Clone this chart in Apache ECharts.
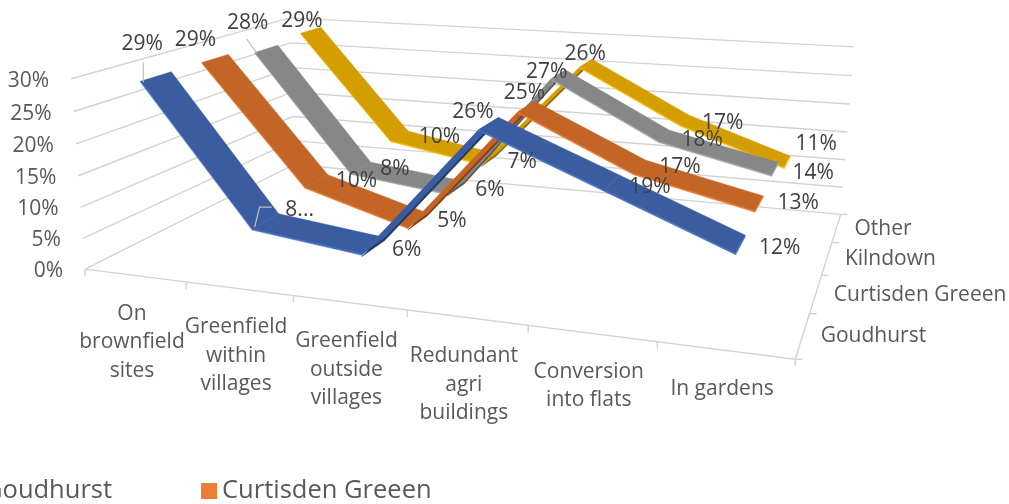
<!DOCTYPE html>
<html><head><meta charset="utf-8">
<script src="https://cdn.jsdelivr.net/npm/echarts@6/dist/echarts.min.js"></script>
<style>html,body{margin:0;padding:0;background:#fff}#c{width:1009px;height:504px}</style>
</head><body><div id="c"></div>
<script>
// ---------- data ----------
const categories = ['On\nbrownfield\nsites','Greenfield\nwithin\nvillages','Greenfield\noutside\nvillages','Redundant\nagri\nbuildings','Conversion\ninto flats','In gardens'];
const depthNames = ['Goudhurst','Curtisden Greeen','Kilndown','Other'];
const goudhurst = [0.294,0.08,0.06,0.26,0.19,0.12];
const curtisden = [0.294,0.10,0.05,0.25,0.17,0.13];
const kilndown  = [0.283,0.08,0.06,0.27,0.18,0.14];
const other     = [0.292,0.10,0.07,0.26,0.17,0.11];
const valueTicks = [0,0.05,0.10,0.15,0.20,0.25,0.30];
const legendNames = ['Goudhurst','Curtisden Greeen'];

// ---------- styling / layout ----------
const seriesValues = [goudhurst,curtisden,kilndown,other];
const palette = [
  {top:'#3A5CA0',edge:'#4472C4',dark:'#1F3864',legend:'#4472C4'},
  {top:'#C46528',edge:'#ED7D31',dark:'#843C0C',legend:'#ED7D31'},
  {top:'#878787',edge:'#A5A5A5',dark:'#525252',legend:'#A5A5A5'},
  {top:'#D49E00',edge:'#FFC000',dark:'#7F6000',legend:'#FFC000'}
];
const labelOffsets = [
  [[-14,-32],[34,-11],[33,4],[-16,-11],[38,5],[39,4]],
  [[-20,-18],[40,0],[34,1],[-2,-13],[40,0],[39,0]],
  [[-19,-26],[34,1],[34,3],[-12,-2],[38,4],[38,4]],
  [[-9,-9],[40,1],[33,3],[-1,-9],[38,3],[29,-18]]
];
const labelOverride = {'0,1':'8...'};
const leaders = [
  {s:0,i:0,path:[[-13,-14],[-13,6]]},
  {s:2,i:0,path:[[-20,-10],[-10,4]]},
  {s:0,i:1,path:[[-11,6],[-6,-14],[6,-14]]}
];
const FONT = '"Open Sans"';
const ribbonDepth = 0.12, edgeThickness = 0.007, darkThickness = 0.014;
const gridColor = '#D2D2D2';

// ---------- projection: unit box (x,y,z) -> page, calibrated on the chart's frame ----------
const frame = [];
[[86,268],[187,281],[294,296],[407,310],[528,326],[657,343],[796,360]].forEach((p,i)=>frame.push([i/6,0,0,p[0],p[1]]));
[[808,313],[822,275],[833,242],[840,214]].forEach((p,i)=>frame.push([1,0,(i+1)/4,p[0],p[1]]));
[[83,238],[80,207],[78,176],[76,144],[73,112],[71,79]].forEach((p,i)=>frame.push([0,(i+1)/6,0,p[0],p[1]]));
[[843,187],[845,160],[848,132],[850,104],[852,76],[853,47]].forEach((p,i)=>frame.push([1,(i+1)/6,1,p[0],p[1]]));
frame.push([0,0,1,293,166],[0,1,1,291,17]);
function solveProjection(pts){
  const n=11, A=Array.from({length:n},()=>new Array(n+1).fill(0));
  const add=(r,b)=>{for(let a=0;a<n;a++){for(let c=0;c<n;c++)A[a][c]+=r[a]*r[c];A[a][n]+=r[a]*b;}};
  pts.forEach(([x,y,z,u0,v0])=>{const u=u0/1000,v=v0/1000;
    add([x,y,z,1,0,0,0,0,-u*x,-u*y,-u*z],u);
    add([0,0,0,0,x,y,z,1,-v*x,-v*y,-v*z],v);});
  for(let c=0;c<n;c++){let p=c;for(let r=c+1;r<n;r++)if(Math.abs(A[r][c])>Math.abs(A[p][c]))p=r;
    [A[c],A[p]]=[A[p],A[c]];
    for(let r=0;r<n;r++){if(r===c)continue;const f=A[r][c]/A[c][c];for(let k=c;k<=n;k++)A[r][k]-=f*A[c][k];}}
  return A.map((row,i)=>row[n]/row[i]);
}
const P = solveProjection(frame);
function project(x,y,z){
  const w=P[8]*x+P[9]*y+P[10]*z+1;
  return [1000*(P[0]*x+P[1]*y+P[2]*z+P[3])/w,1000*(P[4]*x+P[5]*y+P[6]*z+P[7])/w];
}
// scale through the hidden cartesian axes, then into the box
function unit(api,params,cat,val){
  const c=api.coord([cat,val]), s=params.coordSys;
  return [(c[0]-s.x)/s.width,(s.y+s.height-c[1])/s.height];
}
function poly(points,fill,z2){return {type:'polygon',shape:{points},style:{fill,stroke:fill,lineWidth:0.5},z2};}
function line(points,z2,w){return {type:'polyline',shape:{points},style:{stroke:gridColor,fill:null,lineWidth:w||1.4},z2:z2||0};}
function text(t,x,y,o){return {type:'text',z2:o.z2||200,style:Object.assign({text:t,x,y,fontFamily:FONT,fontSize:21,fill:'#404040',align:'center',verticalAlign:'middle'},o.s||{})};}

function ribbonRender(k){
  const vals=seriesValues[k], zc=(k+0.5)/4, z0=zc-ribbonDepth/2, z1=zc+ribbonDepth/2, pal=palette[k];
  return function(params,api){
    const i=api.value(0), v=api.value(1), kids=[], base=(3-k)*20+i;
    const a=unit(api,params,i,v), ctr=project(a[0],a[1],zc);
    if(i<vals.length-1){
      const b=unit(api,params,i+1,vals[i+1]);
      const af=project(a[0],a[1],z0),bf=project(b[0],b[1],z0),bb=project(b[0],b[1],z1),ab=project(a[0],a[1],z1);
      const t=darkThickness, e=edgeThickness;
      if(vals[i+1]>v) kids.push(poly([project(a[0],a[1]-t,z0),project(b[0],b[1]-t,z0),project(b[0],b[1]-t,z1),project(a[0],a[1]-t,z1)],pal.dark,base));
      kids.push(poly([af,bf,project(b[0],b[1]-e,z0),project(a[0],a[1]-e,z0)],pal.edge,base));
      kids.push(poly([af,bf,bb,ab],pal.top,base));
      if(i===vals.length-2) kids.push(poly([bf,bb,project(b[0],b[1]-e,z1),project(b[0],b[1]-e,z0)],pal.edge,base));
    }
    const off=labelOffsets[k][i];
    const lab=labelOverride[k+','+i]||Math.round(v*100)+'%';
    kids.push(text(lab,ctr[0]+off[0],ctr[1]+off[1],{}));
    leaders.filter(l=>l.s===k&&l.i===i).forEach(l=>{
      kids.push({type:'polyline',shape:{points:l.path.map(d=>[ctr[0]+d[0],ctr[1]+d[1]])},style:{stroke:'#BFBFBF',fill:null,lineWidth:1.2},z2:150});
    });
    return {type:'group',children:kids};
  };
}
function frameRender(params,api){
  const kids=[], n=categories.length, m=depthNames.length;
  valueTicks.forEach(t=>{
    const y=unit(api,params,0,t)[1];
    const a=project(0,y,0),b=project(0,y,1),c=project(1,y,1);
    kids.push(line([a,b,c]));
    kids.push(text(Math.round(t*100)+'%',a[0]-22,a[1]+2,{s:{align:'right',fill:'#595959'}}));
  });
  const f0=project(0,0,0),f1=project(1,0,0),f2=project(1,0,1);
  kids.push(line([f0,f1,f2]));
  for(let i=0;i<=n;i++){const p=project(i/n,0,0);kids.push(line([p,[p[0],p[1]+7]]));}
  for(let j=0;j<=m;j++){const p=project(1,0,j/m);kids.push(line([p,[p[0]+7,p[1]]]));}
  categories.forEach((c,i)=>{
    const p=project((i+0.5)/n,0,0);
    kids.push(text(c,p[0]-3,p[1]+24,{s:{fill:'#595959',verticalAlign:'top',lineHeight:28.7}}));
  });
  depthNames.forEach((d,j)=>{
    const p=project(1,0,(j+0.5)/m);
    kids.push(text(d,p[0]+18,p[1]+1,{s:{fill:'#595959',align:'left'}}));
  });
  return {type:'group',children:kids};
}

const series=[{type:'custom',name:'frame',coordinateSystem:'cartesian2d',silent:true,z:1,animation:false,clip:false,
  data:[[0,0]],renderItem:frameRender,encode:{x:0,y:1}}];
seriesValues.forEach((vals,k)=>series.push({
  type:'custom',name:depthNames[k],coordinateSystem:'cartesian2d',silent:true,z:2,animation:false,clip:false,
  itemStyle:{color:palette[k].legend},
  data:vals.map((v,i)=>[i,v]),encode:{x:0,y:1},renderItem:ribbonRender(k)
}));

const chart=echarts.init(document.getElementById('c'));
chart.setOption({
  animation:false,
  backgroundColor:'#fff',
  grid:{left:100,top:100,width:600,height:300,show:false},
  xAxis:{type:'category',data:categories,show:false},
  yAxis:{type:'value',min:0,max:0.3,interval:0.05,show:false},
  legend:{data:legendNames,left:-42,top:473,icon:'rect',itemWidth:16,itemHeight:16,itemGap:89,
    selectedMode:false,textStyle:{fontFamily:FONT,fontSize:25.5,color:'#595959'}},
  series
});
</script></body></html>
